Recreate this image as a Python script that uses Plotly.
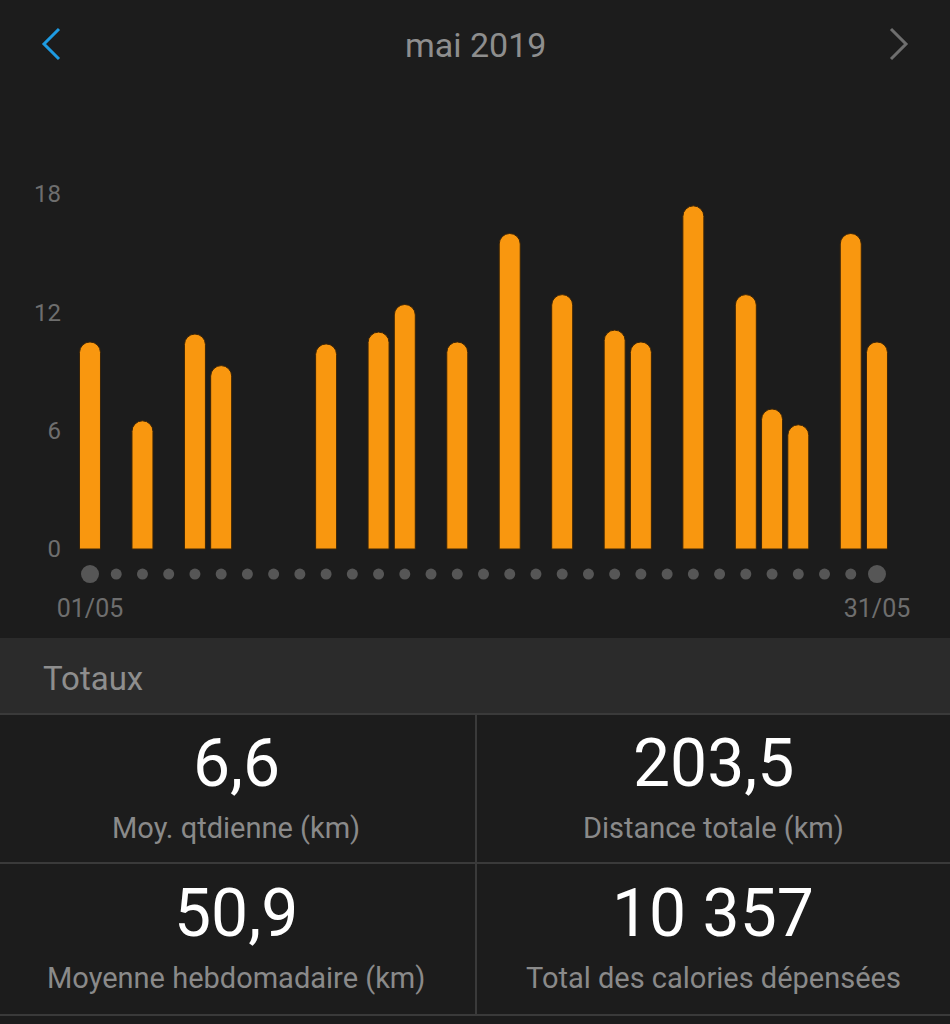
import plotly.graph_objects as go

# ---- data ----
month_title = "mai 2019"
run_days = [1, 3, 5, 6, 10, 12, 13, 15, 17, 19, 21, 22, 24, 26, 27, 28, 30, 31]
run_km = [10.5, 6.5, 10.9, 9.3, 10.4, 11.0, 12.4, 10.5, 16.0, 12.9, 11.1, 10.5, 17.4, 12.9, 7.1, 6.3, 16.0, 10.5]
all_days = list(range(1, 32))
y_ticks = [0, 6, 12, 18]
x_tick_days = [1, 31]
x_tick_labels = ["01/05", "31/05"]
section_title = "Totaux"
stat_values = ["6,6", "203,5", "50,9", "10 357"]
stat_labels = ["Moy. qtdienne (km)", "Distance totale (km)",
               "Moyenne hebdomadaire (km)", "Total des calories dépensées"]

# ---- style ----
W, H = 950, 1024
BG = "#1c1c1c"
BAND = "#2b2b2b"
LINE = "#3a3a3a"
GREY = "#8c8c8c"
ORANGE = "#f9970f"
FONT = "Roboto"


def py(p):  # pixel from top -> paper y
    return 1 - p / H


def px(p):
    return p / W


fig = go.Figure()

fig.add_trace(go.Bar(
    x=run_days, y=run_km, width=0.8,
    marker=dict(color=ORANGE, line=dict(width=1, color="#3a2408")),
    hoverinfo="skip",
))

dot_sizes = [18 if d in (all_days[0], all_days[-1]) else 11 for d in all_days]
fig.add_trace(go.Scatter(
    x=all_days, y=[-1.27] * len(all_days), mode="markers",
    marker=dict(size=dot_sizes, color="#6f6f6f", line=dict(width=0)),
    hoverinfo="skip", cliponaxis=False,
))

# axis geometry
x_dom0 = 66
k = 26.233  # px per day
xr0 = 1 - (90 - x_dom0) / k
xr1 = xr0 + (W - x_dom0) / k
ppu = 19.72  # px per km
y_bottom_px = 590
yr0 = (549 - y_bottom_px) / ppu
yr1 = 549 / ppu

fig.update_layout(
    width=W, height=H,
    margin=dict(l=0, r=0, t=0, b=0),
    paper_bgcolor=BG, plot_bgcolor=BG,
    showlegend=False,
    barcornerradius="50%",
    font=dict(family=FONT, color=GREY),
    xaxis=dict(domain=[px(x_dom0), 1], range=[xr0, xr1],
               showgrid=False, zeroline=False, showline=False,
               tickvals=x_tick_days, ticktext=x_tick_labels,
               ticks="", ticklabelstandoff=1,
               tickfont=dict(size=25, color="#6e6e6e", family=FONT),
               automargin=False, fixedrange=True),
    yaxis=dict(domain=[py(y_bottom_px), 1], range=[yr0, yr1],
               showgrid=False, zeroline=False, showline=False,
               tickvals=y_ticks, ticks="", ticklabelstandoff=4,
               tickfont=dict(size=24, color="#6e6e6e", family=FONT),
               automargin=False, fixedrange=True),
)

shapes = [
    # Totaux band
    dict(type="rect", xref="paper", yref="paper", x0=0, x1=1,
         y0=py(714), y1=py(638), fillcolor=BAND, line=dict(width=0), layer="below"),
    # grid lines
    dict(type="line", xref="paper", yref="paper", x0=0, x1=1,
         y0=py(714), y1=py(714), line=dict(color=LINE, width=2)),
    dict(type="line", xref="paper", yref="paper", x0=0, x1=1,
         y0=py(863), y1=py(863), line=dict(color=LINE, width=2)),
    dict(type="line", xref="paper", yref="paper", x0=0, x1=1,
         y0=py(1015), y1=py(1015), line=dict(color=LINE, width=2)),
    dict(type="line", xref="paper", yref="paper", x0=px(476), x1=px(476),
         y0=py(1015), y1=py(714), line=dict(color=LINE, width=2)),
    # chevrons
    dict(type="path", xref="paper", yref="paper",
         path=f"M {px(59)} {py(29)} L {px(44)} {py(44)} L {px(59)} {py(59)}",
         line=dict(color="#1e9be2", width=3)),
    dict(type="path", xref="paper", yref="paper",
         path=f"M {px(891)} {py(29)} L {px(906)} {py(44)} L {px(891)} {py(59)}",
         line=dict(color="#6e6e6e", width=3)),
]
fig.update_layout(shapes=shapes)

ann = [
    dict(text=month_title, x=0.5, y=py(45), xref="paper", yref="paper",
         showarrow=False, xanchor="center", yanchor="middle",
         font=dict(size=34, color="#8e8e8e", family=FONT)),
    dict(text=section_title, x=px(41), y=py(678), xref="paper", yref="paper",
         showarrow=False, xanchor="left", yanchor="middle",
         font=dict(size=33, color="#8e8e8e", family=FONT)),
]
centers = [(236, 763, 828), (713, 763, 828), (236, 913, 978), (713, 913, 978)]
for (cx, vy, ly), val, lab in zip(centers, stat_values, stat_labels):
    ann.append(dict(text=val, x=px(cx), y=py(vy), xref="paper", yref="paper",
                    showarrow=False, xanchor="center", yanchor="middle",
                    font=dict(size=66, color="#ffffff", family=FONT)))
    ann.append(dict(text=lab, x=px(cx), y=py(ly), xref="paper", yref="paper",
                    showarrow=False, xanchor="center", yanchor="middle",
                    font=dict(size=29, color="#8a8a8a", family=FONT)))
fig.update_layout(annotations=ann)

fig.write_html(
    "out.html",
    config={"displayModeBar": False},
    post_script="document.body.style.margin='0';document.body.style.overflow='hidden';",
)
